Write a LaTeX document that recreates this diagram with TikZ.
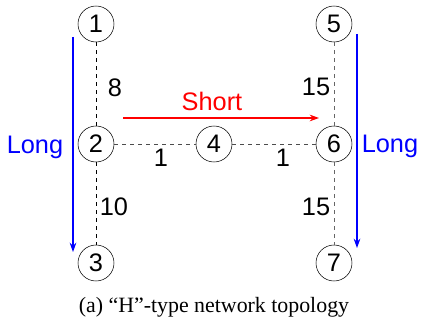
\documentclass[tikz,border=0pt]{standalone}
\usepackage{fontspec}
\setmainfont{Liberation Serif}
\newfontfamily\arialfont{Liberation Sans}
\usepackage{tikz}
\usetikzlibrary{arrows.meta}

\tikzset{
  host/.style = {draw, circle, thin, minimum size = 27pt, inner sep = 0pt, font = \arialfont\fontsize{19}{19}\selectfont},
  link/.style = {dashed, thin},
  weight/.style = {font = \arialfont\fontsize{19}{19}\selectfont},
  flow/.style = {thick, -{Stealth[length = 7pt, width = 5pt]}}
}

\begin{document}
\begin{tikzpicture}[x = 0.75pt, y = -0.75pt]
\useasboundingbox (0,0) rectangle (421,327);
\node[host] (n1) at (96,24) {1};
\node[host] (n2) at (96,144) {2};
\node[host] (n3) at (96,263) {3};
\node[host] (n4) at (214,144) {4};
\node[host] (n5) at (334,24) {5};
\node[host] (n6) at (334,144) {6};
\node[host] (n7) at (334,263) {7};
\draw[link, black] (n1) -- (n2);
\draw[link, black] (n2) -- (n3);
\draw[link, black!70] (n2) -- (n4);
\draw[link, black!70] (n4) -- (n6);
\draw[link, black!60] (n5) -- (n6);
\draw[link, black!60] (n6) -- (n7);
\node[weight] (w12) at (115,88) {8};
\node[weight] (w23) at (114,207) {10};
\node[weight] (w24) at (161,158) {1};
\node[weight] (w46) at (283,158) {1};
\node[weight] (w56) at (316,87) {15};
\node[weight] (w67) at (316,207) {15};
% long paths
\coordinate (la) at (73,37);
\coordinate (lb) at (73,252);
\coordinate (ra) at (357,34);
\coordinate (rb) at (357,248);
\draw[flow, blue] (la) -- (lb);
\draw[flow, blue] (ra) -- (rb);
\node[weight, blue] (ll) at (35,147) {Long};
\node[weight, blue] (rl) at (390,146) {Long};
% short path
\coordinate (sa) at (123,118);
\coordinate (sb) at (319,118);
\draw[flow, red] (sa) -- (sb);
\node[weight, red] (sl) at (212,101) {Short};
\node (cap) at (214,307) {\fontsize{16.4}{17}\selectfont (a) ``H''-type network topology};
\end{tikzpicture}
\end{document}
